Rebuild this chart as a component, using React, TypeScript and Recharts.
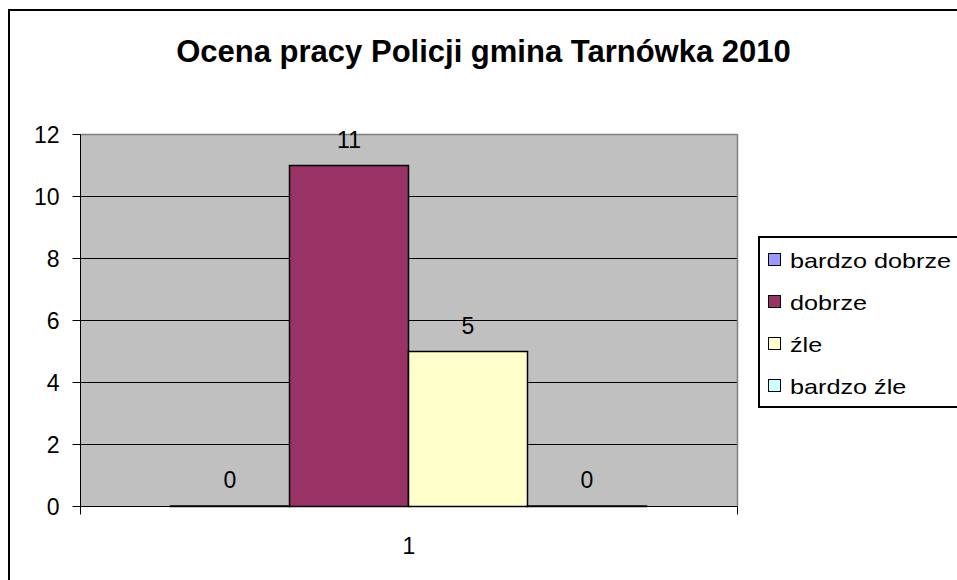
import { BarChart, Bar, XAxis, YAxis, CartesianGrid, Legend, LabelList, ReferenceLine } from 'recharts';

// Ocena pracy Policji - gmina Tarnówka 2010
const categories = ['1'];
const seriesNames = ['bardzo dobrze', 'dobrze', 'źle', 'bardzo źle'];
const seriesKeys = ['bardzoDobrze', 'dobrze', 'zle', 'bardzoZle'];
const seriesValues = [0, 11, 5, 0];
const yTicks = [0, 2, 4, 6, 8, 10, 12];

const seriesColors = ['#9999FF', '#993366', '#FFFFCC', '#CCFFFF'];
const FONT = '"Liberation Sans", Arial, sans-serif';

const data = categories.map((name) => {
  const row: Record<string, string | number> = { name };
  seriesKeys.forEach((k, i) => {
    row[k] = seriesValues[i];
  });
  return row;
});

const LegendBox = ({ payload }: any) => {
  // keep the series order, recharts sorts by name otherwise
  const items = [...(payload || [])].sort(
    (a: any, b: any) => seriesNames.indexOf(a.value) - seriesNames.indexOf(b.value)
  );
  return (
    <div
      style={{
        border: '2px solid #000',
        background: '#fff',
        fontFamily: FONT,
        fontSize: 21,
        color: '#000',
        paddingLeft: 8,
        width: 300,
      }}
    >
      {items.map((p: any) => (
        <div key={p.value} style={{ height: 42, display: 'flex', alignItems: 'center' }}>
          <span
            style={{
              display: 'inline-block',
              width: 11,
              height: 11,
              background: p.color,
              border: '1.5px solid #000',
              marginRight: 9,
            }}
          />
          <span
            style={{
              display: 'inline-block',
              position: 'relative',
              top: 2,
              transform: 'scaleX(1.2)',
              transformOrigin: 'left center',
              whiteSpace: 'nowrap',
            }}
          >
            {p.value}
          </span>
        </div>
      ))}
    </div>
  );
};

const ValueLabel = (props: any) => {
  const { x, y, width, value } = props;
  return (
    <text
      x={Number(x) + Number(width) / 2}
      y={Number(y) - 18}
      textAnchor="middle"
      fill="#000"
      fontSize={23}
      fontFamily={FONT}
    >
      {value}
    </text>
  );
};

// category label plus the Excel-style tick marks at both band edges
const CategoryTick = (props: any) => {
  const { x, y, payload } = props;
  const half = payload?.offset ?? 0;
  const axisY = y - 31;
  return (
    <g>
      <line x1={x - half} x2={x - half} y1={axisY} y2={axisY + 8} stroke="#000" />
      <line x1={x + half} x2={x + half} y1={axisY} y2={axisY + 8} stroke="#000" />
      <text x={x} y={y} dy="0.71em" textAnchor="middle" fill="#000" fontSize={23} fontFamily={FONT}>
        {payload?.value}
      </text>
    </g>
  );
};

export default function App() {
  return (
    <div style={{ position: 'fixed', inset: 0, overflow: 'hidden', background: '#fff' }}>
      <div
        style={{
          position: 'absolute',
          left: 8,
          top: 9,
          width: 1100,
          height: 800,
          border: '2px solid #000',
        }}
      />
      <div
        style={{
          position: 'absolute',
          left: 0,
          width: 967,
          top: 36,
          textAlign: 'center',
          fontFamily: FONT,
          fontWeight: 'bold',
          fontSize: 31,
          lineHeight: '31px',
        }}
      >
        Ocena pracy Policji gmina Tarnówka 2010
      </div>
      <div style={{ position: 'absolute', left: 0, top: 0 }}>
        <BarChart
          width={957}
          height={580}
          data={data}
          margin={{ top: 134.5, right: 218.5, left: 0.5, bottom: 13.5 }}
          barCategoryGap={90}
          barGap={0}
        >
          <CartesianGrid vertical={false} stroke="#000" fill="#C0C0C0" />
          <XAxis
            dataKey="name"
            height={60}
            tickLine={false}
            tickSize={0}
            tickMargin={31}
            axisLine={{ stroke: '#000' }}
            tick={<CategoryTick />}
          />
          <YAxis
            width={80}
            domain={[0, 12]}
            ticks={yTicks}
            interval={0}
            tickSize={8}
            tickMargin={13}
            axisLine={{ stroke: '#000' }}
            tickLine={{ stroke: '#000' }}
            tick={{ fill: '#000', fontSize: 23, fontFamily: FONT }}
          />
          <YAxis
            yAxisId="edge"
            orientation="right"
            width={1}
            domain={[0, 12]}
            tick={false}
            tickLine={false}
            axisLine={{ stroke: '#808080', strokeWidth: 1.5 }}
          />
          <ReferenceLine y={12} stroke="#808080" strokeWidth={1.5} />
          <Legend
            layout="horizontal"
            verticalAlign="middle"
            align="center"
            wrapperStyle={{ left: 758, top: 236, width: 320 }}
            content={<LegendBox />}
          />
          {seriesKeys.map((k, i) => (
            <Bar
              key={k}
              dataKey={k}
              name={seriesNames[i]}
              fill={seriesColors[i]}
              stroke="#000"
              strokeWidth={1.5}
              minPointSize={0.5}
              isAnimationActive={false}
            >
              <LabelList dataKey={k} content={<ValueLabel />} />
            </Bar>
          ))}
        </BarChart>
      </div>
    </div>
  );
}
